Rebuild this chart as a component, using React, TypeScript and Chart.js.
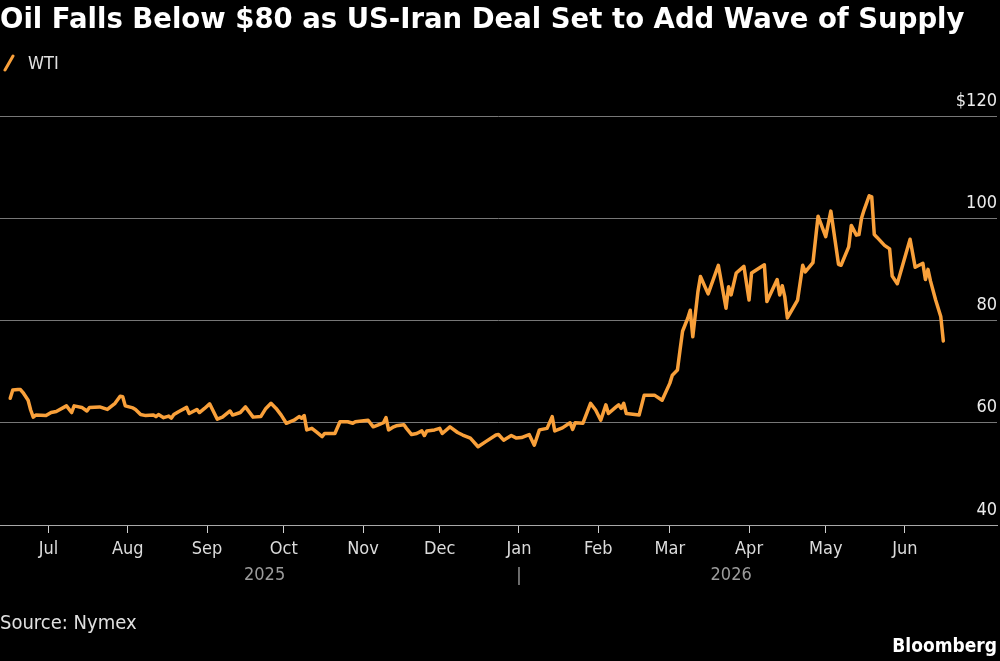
import { useEffect, useRef } from 'react';
import { Chart, registerables } from 'chart.js';

Chart.register(...registerables);

// WTI front-month settlement, USD per barrel
const dates = [
  '2025-06-16', '2025-06-17', '2025-06-19', '2025-06-20', '2025-06-21', '2025-06-23', '2025-06-24', '2025-06-25',
  '2025-06-26', '2025-06-30', '2025-07-02', '2025-07-04', '2025-07-08', '2025-07-10', '2025-07-11', '2025-07-14',
  '2025-07-16', '2025-07-17', '2025-07-21', '2025-07-24', '2025-07-25', '2025-07-27', '2025-07-29', '2025-07-30',
  '2025-07-31', '2025-08-03', '2025-08-04', '2025-08-06', '2025-08-08', '2025-08-11', '2025-08-12', '2025-08-13',
  '2025-08-15', '2025-08-17', '2025-08-18', '2025-08-19', '2025-08-21', '2025-08-24', '2025-08-25', '2025-08-28',
  '2025-08-29', '2025-08-31', '2025-09-02', '2025-09-05', '2025-09-07', '2025-09-10', '2025-09-11', '2025-09-14',
  '2025-09-16', '2025-09-19', '2025-09-22', '2025-09-24', '2025-09-26', '2025-09-28', '2025-09-30', '2025-10-02',
  '2025-10-05', '2025-10-07', '2025-10-08', '2025-10-09', '2025-10-10', '2025-10-12', '2025-10-14', '2025-10-16',
  '2025-10-17', '2025-10-21', '2025-10-23', '2025-10-26', '2025-10-28', '2025-10-29', '2025-11-03', '2025-11-05',
  '2025-11-07', '2025-11-09', '2025-11-10', '2025-11-11', '2025-11-13', '2025-11-14', '2025-11-17', '2025-11-18',
  '2025-11-20', '2025-11-22', '2025-11-24', '2025-11-25', '2025-11-26', '2025-11-29', '2025-12-01', '2025-12-02',
  '2025-12-05', '2025-12-08', '2025-12-10', '2025-12-13', '2025-12-16', '2025-12-19', '2025-12-23', '2025-12-24',
  '2025-12-26', '2025-12-29', '2025-12-31', '2026-01-02', '2026-01-05', '2026-01-07', '2026-01-09', '2026-01-12',
  '2026-01-14', '2026-01-15', '2026-01-18', '2026-01-21', '2026-01-22', '2026-01-23', '2026-01-26', '2026-01-29',
  '2026-01-31', '2026-02-02', '2026-02-04', '2026-02-05', '2026-02-08', '2026-02-09', '2026-02-10', '2026-02-11',
  '2026-02-12', '2026-02-17', '2026-02-19', '2026-02-23', '2026-02-26', '2026-03-01', '2026-03-02', '2026-03-04',
  '2026-03-05', '2026-03-06', '2026-03-08', '2026-03-09', '2026-03-10', '2026-03-12', '2026-03-13', '2026-03-16',
  '2026-03-20', '2026-03-23', '2026-03-24', '2026-03-25', '2026-03-27', '2026-03-30', '2026-04-01', '2026-04-02',
  '2026-04-07', '2026-04-08', '2026-04-12', '2026-04-13', '2026-04-14', '2026-04-15', '2026-04-16', '2026-04-20',
  '2026-04-22', '2026-04-23', '2026-04-26', '2026-04-28', '2026-05-01', '2026-05-03', '2026-05-06', '2026-05-07',
  '2026-05-10', '2026-05-11', '2026-05-13', '2026-05-14', '2026-05-15', '2026-05-16', '2026-05-18', '2026-05-19',
  '2026-05-20', '2026-05-21', '2026-05-24', '2026-05-26', '2026-05-27', '2026-05-29', '2026-06-03', '2026-06-05',
  '2026-06-08', '2026-06-09', '2026-06-10', '2026-06-11', '2026-06-13', '2026-06-15', '2026-06-16',
];

const wti = [
  64.8, 66.4, 66.5, 66.5, 65.9, 64.4, 62.5, 61.1,
  61.5, 61.4, 62.0, 62.2, 63.3, 62.0, 63.3, 63.0,
  62.3, 63.0, 63.1, 62.6, 63.0, 63.8, 65.2, 65.1,
  63.3, 62.9, 62.6, 61.6, 61.4, 61.5, 61.2, 61.6,
  61.0, 61.3, 60.9, 61.6, 62.2, 63.0, 61.8, 62.6,
  62.0, 62.8, 63.7, 60.7, 61.1, 62.3, 61.5, 62.0,
  63.1, 61.1, 61.2, 62.8, 63.8, 62.8, 61.5, 59.9,
  60.5, 61.2, 60.9, 61.4, 58.6, 58.9, 58.1, 57.3,
  57.9, 57.9, 60.2, 60.2, 59.9, 60.2, 60.5, 59.2,
  59.6, 60.0, 61.0, 58.6, 59.2, 59.4, 59.6, 58.9,
  57.7, 57.9, 58.4, 57.5, 58.4, 58.6, 58.9, 57.9,
  59.2, 58.1, 57.6, 57.0, 55.3, 56.3, 57.6, 57.7,
  56.6, 57.5, 57.0, 57.1, 57.7, 55.6, 58.6, 58.9,
  61.2, 58.4, 59.0, 60.0, 58.7, 60.0, 59.9, 63.8,
  62.5, 60.5, 63.5, 61.8, 63.1, 63.5, 62.8, 63.8,
  61.8, 61.5, 65.4, 65.4, 64.4, 67.7, 69.3, 70.3,
  74.2, 77.9, 80.4, 82.0, 76.8, 85.6, 88.6, 85.2,
  90.8, 82.4, 86.6, 85.0, 89.3, 90.6, 84.0, 89.3,
  90.9, 83.7, 88.0, 85.0, 86.8, 84.6, 80.5, 84.0,
  90.8, 89.5, 91.3, 100.4, 96.4, 101.4, 91.0, 90.8,
  94.4, 98.6, 96.7, 96.8, 100.0, 101.6, 104.4, 104.2,
  96.8, 96.3, 94.7, 94.0, 88.7, 87.2, 95.9, 90.4,
  91.2, 88.0, 90.0, 87.7, 84.0, 80.8, 76.0,
];

const monthTicks = [
  '2025-07-01', '2025-08-01', '2025-09-01', '2025-10-01', '2025-11-01', '2025-12-01',
  '2026-01-01', '2026-02-01', '2026-03-01', '2026-04-01', '2026-05-01', '2026-06-01',
];
const monthLabels = ['Jul', 'Aug', 'Sep', 'Oct', 'Nov', 'Dec', 'Jan', 'Feb', 'Mar', 'Apr', 'May', 'Jun'];
const yearLabels = ['2025', '2026'];
const yearBreak = '2026-01-01';
const axisStart = '2025-06-12';
const axisEnd = '2026-07-07';
const yTicks = [40, 60, 80, 100, 120];

const FONT = '"DejaVu Sans Condensed", "DejaVu Sans", sans-serif';
const TITLE_FONT = '"DejaVu Sans", sans-serif';
const ORANGE = '#F9A03A';

const origin = Date.UTC(2025, 6, 1);
const dayOf = (iso: string) => (Date.parse(iso + 'T00:00:00Z') - origin) / 86400000;

const yearPlugin = {
  id: 'yearLabels',
  afterDraw(chart: any) {
    const xs = chart.scales.x;
    const ctx = chart.ctx;
    const first = xs.getPixelForValue(dayOf(dates[0]));
    const last = xs.getPixelForValue(dayOf(dates[dates.length - 1]));
    const brk = xs.getPixelForValue(dayOf(yearBreak));
    const y = xs.top + 50;
    ctx.save();
    ctx.font = `18px ${FONT}`;
    ctx.fillStyle = '#9b9b9b';
    ctx.textAlign = 'center';
    ctx.textBaseline = 'middle';
    ctx.fillText(yearLabels[0], (first + brk) / 2, y);
    ctx.fillText(yearLabels[1], (brk + last) / 2, y);
    ctx.fillText('|', brk, y + 1);
    ctx.restore();
  },
};

export default function App() {
  const canvasRef = useRef<HTMLCanvasElement | null>(null);

  useEffect(() => {
    document.body.style.margin = '0';
    document.body.style.background = '#000';
    const canvas = canvasRef.current;
    if (!canvas) return;
    const points = dates.map((d, i) => ({ x: dayOf(d), y: wti[i] }));
    const tickDays = monthTicks.map(dayOf);

    const chart = new Chart(canvas, {
      type: 'line',
      data: {
        datasets: [
          {
            label: 'WTI',
            data: points,
            borderColor: ORANGE,
            borderWidth: 3.5,
            pointRadius: 0,
            tension: 0,
            borderJoinStyle: 'round',
            borderCapStyle: 'round',
          },
        ],
      },
      options: {
        animation: false,
        responsive: false,
        maintainAspectRatio: false,
        layout: { padding: { top: 116, left: 0, right: 3, bottom: 0 } },
        plugins: {
          legend: { display: false },
          title: { display: false },
          tooltip: { enabled: false },
        },
        scales: {
          x: {
            type: 'linear',
            min: dayOf(axisStart),
            max: dayOf(axisEnd),
            afterBuildTicks: (axis: any) => {
              axis.ticks = tickDays.map((v) => ({ value: v }));
            },
            afterFit: (axis: any) => {
              axis.height = 136;
            },
            grid: {
              display: true,
              drawOnChartArea: false,
              drawTicks: true,
              tickLength: 8,
              tickColor: '#d0d0d0',
              tickWidth: 1,
            },
            border: { display: true, color: '#a8a8a8', width: 1 },
            ticks: {
              autoSkip: false,
              maxRotation: 0,
              padding: 6,
              color: '#dcdcdc',
              font: { family: FONT, size: 18 },
              callback: (value: any) => {
                const i = tickDays.indexOf(Number(value));
                return i >= 0 ? monthLabels[i] : '';
              },
            },
          },
          y: {
            type: 'linear',
            position: 'right',
            min: yTicks[0],
            max: yTicks[yTicks.length - 1],
            afterBuildTicks: (axis: any) => {
              axis.ticks = yTicks.map((v) => ({ value: v }));
            },
            grid: {
              color: '#777777',
              lineWidth: 1,
              drawTicks: false,
            },
            border: { display: false },
            ticks: {
              mirror: true,
              padding: 0,
              labelOffset: -15,
              color: '#ececec',
              font: { family: FONT, size: 18 },
              callback: (value: any) => (Number(value) === 120 ? '$120' : String(value)),
            },
          },
        },
      },
      plugins: [yearPlugin],
    } as any);

    return () => chart.destroy();
  }, []);

  return (
    <div style={{ position: 'relative', width: 1000, height: 661, background: '#000', overflow: 'hidden', fontFamily: FONT }}>
      <canvas ref={canvasRef} width={1000} height={661} style={{ position: 'absolute', left: 0, top: 0, width: 1000, height: 661 }} />
      <div style={{ position: 'absolute', left: 0, top: 5, fontFamily: TITLE_FONT, fontSize: 27.5, lineHeight: '27px', fontWeight: 'bold', color: '#fff', whiteSpace: 'nowrap' }}>
        Oil Falls Below $80 as US-Iran Deal Set to Add Wave of Supply
      </div>
      <div style={{ position: 'absolute', left: 2, top: 54, height: 18, display: 'flex', alignItems: 'center', color: '#e0e0e0', fontSize: 18, lineHeight: '18px' }}>
        <svg width={14} height={18} style={{ marginRight: 12 }}>
          <line x1={3} y1={16} x2={11} y2={2} stroke={ORANGE} strokeWidth={3} strokeLinecap="round" />
        </svg>
        <span>WTI</span>
      </div>
      <div style={{ position: 'absolute', left: 0, top: 612, fontSize: 20, lineHeight: '20px', color: '#e0e0e0' }}>Source: Nymex</div>
      <div style={{ position: 'absolute', right: 3, top: 636, fontSize: 19, lineHeight: '19px', fontWeight: 'bold', color: '#fff' }}>Bloomberg</div>
    </div>
  );
}
